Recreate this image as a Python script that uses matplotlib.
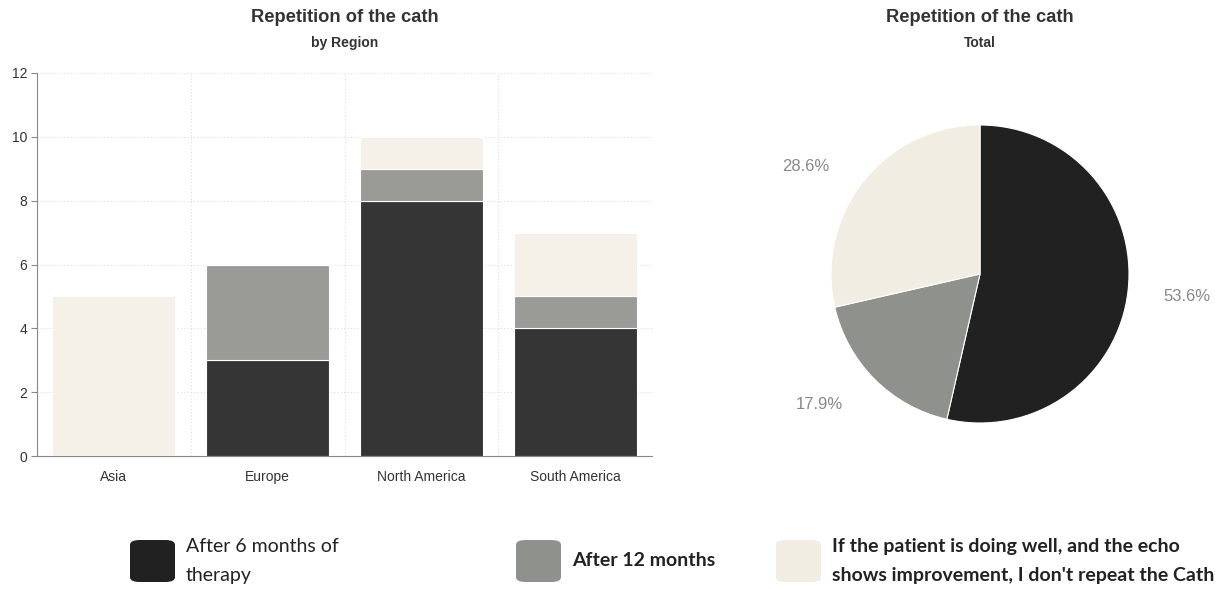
import matplotlib
matplotlib.use("Agg")
import matplotlib.pyplot as plt
from matplotlib.patches import FancyBboxPatch
import numpy as np

regions = ["Asia", "Europe", "North America", "South America"]
series_names = ["After 6 months of\ntherapy", "After 12 months",
                "If the patient is doing well, and the echo\nshows improvement, I don't repeat the Cath"]
after6 = [0, 3, 8, 4]
after12 = [0, 3, 1, 1]
no_repeat = [5, 0, 1, 2]
yticks = [0, 2, 4, 6, 8, 10, 12]

bar_colors = ["#353535", "#9a9b96", "#f5f0e8"]
pie_colors = ["#212121", "#8f918c", "#f1ede3"]

fig = plt.figure(figsize=(12.29, 5.89), dpi=100)
fig.patch.set_facecolor("white")

# Bar chart
ax = fig.add_axes([37/1229, 1-456/589, 615/1229, 383/589])
x = np.arange(len(regions))
bottoms = np.zeros(len(regions))
for vals, c in zip([after6, after12, no_repeat], bar_colors):
    ax.bar(x, vals, width=0.8, bottom=bottoms, color=c, edgecolor="white", linewidth=0.8, zorder=3)
    bottoms += np.array(vals)
ax.set_xlim(-0.5, 3.5)
ax.set_ylim(0, 12)
ax.set_yticks(yticks)
ax.set_xticks(x)
ax.set_xticklabels(regions, fontsize=10, color="#333333", family="Liberation Sans")
ax.set_yticklabels([str(v) for v in yticks], fontsize=10, color="#333333", family="Liberation Sans")
ax.tick_params(axis="x", length=0, pad=10)
ax.tick_params(axis="y", length=4, color="#888888", pad=3)
for yv in yticks[1:]:
    ax.axhline(yv, color="#dddddd", linestyle=(0, (1, 2)), linewidth=0.8, zorder=1)
for xv in [0.5, 1.5, 2.5, 3.5]:
    ax.axvline(xv, color="#dddddd", linestyle=(0, (1, 2)), linewidth=0.8, zorder=1)
for s in ["top", "right"]:
    ax.spines[s].set_visible(False)
ax.spines["left"].set_color("#888888")
ax.spines["bottom"].set_color("#888888")

fig.text(345/1229, 1-18/589, "Repetition of the cath", ha="center", va="center",
         fontsize=13.2, fontweight="bold", color="#333333", family="Liberation Sans")
fig.text(345/1229, 1-43/589, "by Region", ha="center", va="center",
         fontsize=10, fontweight="bold", color="#333333", family="Liberation Sans")

# Pie chart
totals = [sum(after6), sum(after12), sum(no_repeat)]
R = 149
pax = fig.add_axes([(980-R)/1229, 1-(274+R)/589, 2*R/1229, 2*R/589])
wedges, texts, autotexts = pax.pie(totals, colors=pie_colors, startangle=90, counterclock=False,
                                   autopct="%1.1f%%", pctdistance=1.2, radius=1,
                                   wedgeprops=dict(edgecolor="white", linewidth=0.8))
for t in autotexts:
    t.set_fontsize(12)
    t.set_color("#888888")
    t.set_family("Liberation Sans")
    t.set_clip_on(False)
    px, py = t.get_position()
    if px < 0:
        t.set_ha("right")
        t.set_position((px - 0.07, py - 0.03))
    else:
        t.set_ha("left")
        t.set_position((px + 0.04, py - 0.02))
pax.set_xlim(-1, 1)
pax.set_ylim(-1, 1)
pax.set_aspect("equal")
pax.axis("off")

fig.text(980/1229, 1-18/589, "Repetition of the cath", ha="center", va="center",
         fontsize=13.2, fontweight="bold", color="#333333", family="Liberation Sans")
fig.text(980/1229, 1-43/589, "Total", ha="center", va="center",
         fontsize=10, fontweight="bold", color="#333333", family="Liberation Sans")

# Legend
leg_x = [130, 516, 776]
weights = ["normal", "bold", "bold"]
for lx, c, name, w in zip(leg_x, pie_colors, series_names, weights):
    box = FancyBboxPatch((lx/1229, 1-582/589), 45/1229, 42/589,
                         boxstyle="round,pad=0,rounding_size=0.008",
                         transform=fig.transFigure, facecolor=c, edgecolor="none")
    fig.patches.append(box)
    fig.text((lx+56)/1229, 1-561/589, name, ha="left", va="center", fontsize=14,
             fontweight=w, color="#222222", family="Lato", linespacing=1.85)

fig.savefig("out.png", dpi=100, facecolor="white")
